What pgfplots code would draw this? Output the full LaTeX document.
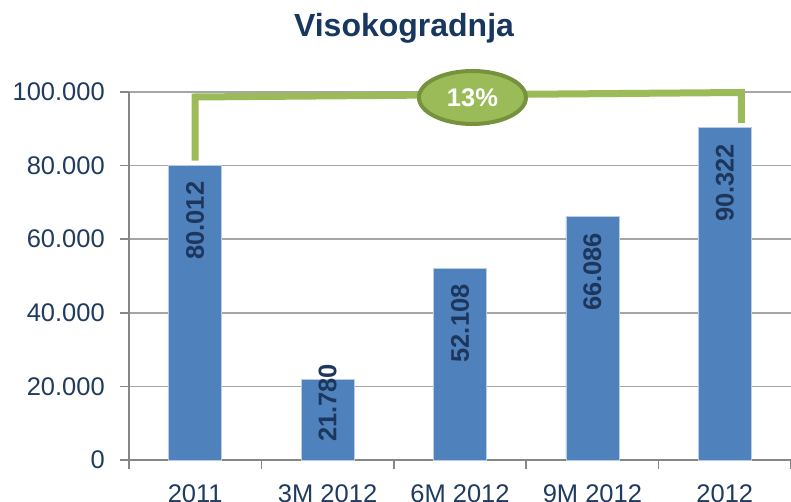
\documentclass[border=0pt]{standalone}
\usepackage{pgfplots}
\pgfplotsset{compat=1.18}
\usepackage{fontspec}
\setmainfont{Liberation Sans}
\usetikzlibrary{shapes.geometric}
\definecolor{barblue}{HTML}{4F81BD}
\definecolor{baredge}{HTML}{B9CDE5}
\definecolor{navy}{HTML}{1F3B5F}
\definecolor{lblnavy}{HTML}{1C365C}
\definecolor{titlec}{HTML}{17375E}
\definecolor{lgreen}{HTML}{9BBB59}
\definecolor{dgreen}{HTML}{76923C}
\definecolor{gridc}{HTML}{A6A6A6}
\definecolor{axisc}{HTML}{868686}
\newcommand{\lbl}{\fontsize{25.5}{30}\selectfont}
\begin{document}
\begin{tikzpicture}
\useasboundingbox (0,0) rectangle (791pt,502pt);
\node[anchor=base, font=\fontsize{32}{38}\selectfont\bfseries, text=titlec, inner sep=0pt] at (404pt,465pt) {Visokogradnja};
\begin{axis}[
  at={(129pt,42pt)}, anchor=south west,
  width=662pt, height=368pt, scale only axis,
  xmin=-0.5, xmax=4.5, ymin=0, ymax=100000,
  clip=false,
  axis x line*=bottom, axis y line*=left,
  axis line style={draw=axisc, line width=1.5pt, -},
  ytick={0,20000,40000,60000,80000,100000},
  yticklabels={0,20.000,40.000,60.000,80.000,100.000},
  xtick={0,1,2,3,4},
  xticklabels={2011,3M 2012,6M 2012,9M 2012,2012},
  minor xtick={-0.5,0.5,1.5,2.5,3.5,4.5},
  ymajorgrids, grid style={draw=gridc, line width=1.5pt},
  tick align=outside,
  major tick length=9pt, minor tick length=9pt,
  major x tick style={draw=none},
  minor x tick style={draw=axisc, line width=1.5pt},
  ytick style={draw=axisc, line width=1.5pt},
  /pgf/number format/assume math mode=true,
  yticklabel style={font=\lbl, text=navy, inner sep=0pt, anchor=east, xshift=-15pt},
  xticklabel style={font=\lbl, text=navy, inner sep=0pt, anchor=north, yshift=-15pt},
  scaled y ticks=false,
]
\addplot[ybar, bar width=53pt, fill=barblue, draw=baredge, line width=0.8pt]
  coordinates {(0,80012) (1,21780) (2,52108) (3,66086) (4,90322)};
\addplot[sharp plot, no markers, lgreen, line width=7pt, line join=miter]
  coordinates {(0,81332) (0,98641) (4.125,99864) (4.125,91576)};
\node[ellipse, fill=lgreen, draw=dgreen, line width=4pt, minimum width=107pt, minimum height=53pt, inner sep=0pt, text=white, font=\lbl\bfseries] at (axis cs:2.094,98505) {13\%};
\node[rotate=90, anchor=east, inner sep=0pt, font=\lbl\bfseries, text=lblnavy] at (axis cs:0,75664) {80.012};
\node[rotate=90, anchor=center, inner sep=0pt, font=\lbl\bfseries, text=lblnavy] at (axis cs:1,15500) {21.780};
\node[rotate=90, anchor=east, inner sep=0pt, font=\lbl\bfseries, text=lblnavy] at (axis cs:2,47760) {52.108};
\node[rotate=90, anchor=east, inner sep=0pt, font=\lbl\bfseries, text=lblnavy] at (axis cs:3,61738) {66.086};
\node[rotate=90, anchor=east, inner sep=0pt, font=\lbl\bfseries, text=lblnavy] at (axis cs:4,85974) {90.322};
\end{axis}
\end{tikzpicture}
\end{document}
